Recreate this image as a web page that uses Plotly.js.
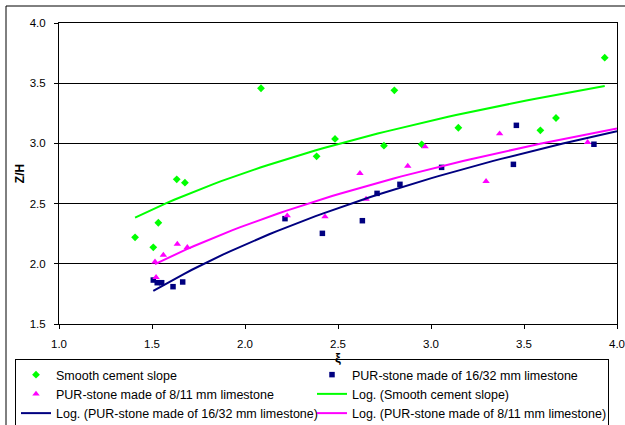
<!DOCTYPE html>
<html>
<head>
<meta charset="utf-8">
<script src="https://cdn.plot.ly/plotly-3.0.1.min.js"></script>
<style>
html,body{margin:0;padding:0;background:#fff;}
#chart{width:625px;height:425px;}
</style>
</head>
<body>
<div id="chart"></div>
<script>
// Smooth cement slope
const smoothX = [1.409, 1.507, 1.534, 1.633, 1.677, 2.086, 2.385, 2.484, 2.747, 2.803, 2.950, 3.147, 3.588, 3.672, 3.934];
const smoothY = [2.220, 2.137, 2.341, 2.702, 2.674, 3.458, 2.893, 3.037, 2.981, 3.441, 2.992, 3.130, 3.109, 3.211, 3.712];
// PUR-stone made of 16/32 mm limestone
const coarseX = [1.507, 1.528, 1.552, 1.613, 1.665, 2.215, 2.416, 2.631, 2.710, 2.833, 3.057, 3.443, 3.459, 3.876];
const coarseY = [1.865, 1.843, 1.843, 1.810, 1.849, 2.375, 2.253, 2.358, 2.585, 2.660, 2.801, 2.826, 3.150, 2.993];
// PUR-stone made of 8/11 mm limestone
const fineX = [1.516, 1.522, 1.561, 1.636, 1.690, 2.227, 2.430, 2.618, 2.651, 2.875, 2.968, 3.296, 3.369, 3.842];
const fineY = [2.017, 1.888, 2.073, 2.164, 2.137, 2.400, 2.391, 2.752, 2.538, 2.812, 2.973, 2.685, 3.081, 3.009];

const names = [
  'Smooth cement slope',
  'PUR-stone made of 16/32 mm limestone',
  'PUR-stone made of 8/11 mm limestone',
  'Log. (Smooth cement slope)',
  'Log. (PUR-stone made of 16/32 mm limestone)',
  'Log. (PUR-stone made of 8/11 mm limestone)'
];
const yTicks = [1.5, 2.0, 2.5, 3.0, 3.5, 4.0];
const xTicks = [1.0, 1.5, 2.0, 2.5, 3.0, 3.5, 4.0];

const GREEN = '#00FF00', NAVY = '#000080', MAGENTA = '#FF00FF';

// Logarithmic least-squares trend line (as a spreadsheet trendline): y = a*ln(x) + b
function logFit(xs, ys, xEnd) {
  const n = xs.length;
  let sl = 0, sy = 0, sll = 0, sly = 0;
  for (let i = 0; i < n; i++) {
    const l = Math.log(xs[i]);
    sl += l; sy += ys[i]; sll += l * l; sly += l * ys[i];
  }
  const a = (n * sly - sl * sy) / (n * sll - sl * sl);
  const b = (sy - a * sl) / n;
  const x0 = Math.min(...xs);
  const x1 = xEnd !== undefined ? xEnd : Math.max(...xs);
  const lx = [], ly = [];
  const steps = 60;
  for (let k = 0; k <= steps; k++) {
    const x = x0 + (x1 - x0) * k / steps;
    lx.push(x); ly.push(a * Math.log(x) + b);
  }
  return {x: lx, y: ly};
}

const fSmooth = logFit(smoothX, smoothY);
const fCoarse = logFit(coarseX, coarseY, 4.0);
const fFine = logFit(fineX, fineY, 4.0);

const traces = [
  {x: smoothX, y: smoothY, mode: 'markers', type: 'scatter', name: names[0],
   marker: {symbol: 'diamond', size: 6, color: GREEN}},
  {x: coarseX, y: coarseY, mode: 'markers', type: 'scatter', name: names[1],
   marker: {symbol: 'square', size: 5.5, color: NAVY}},
  {x: fineX, y: fineY, mode: 'markers', type: 'scatter', name: names[2],
   marker: {symbol: 'triangle-up', size: 6.5, color: MAGENTA}},
  {x: fSmooth.x, y: fSmooth.y, mode: 'lines', type: 'scatter', name: names[3],
   line: {color: GREEN, width: 2}},
  {x: fCoarse.x, y: fCoarse.y, mode: 'lines', type: 'scatter', name: names[4],
   line: {color: NAVY, width: 2}},
  {x: fFine.x, y: fFine.y, mode: 'lines', type: 'scatter', name: names[5],
   line: {color: MAGENTA, width: 2}}
];

const L = 59, R = 8, T = 23, B = 101, W = 625, H = 425;
const pw = W - L - R, ph = H - T - B;
const px = v => (v - L) / pw;
const py = v => (H - B - v) / ph;

const font = {family: 'Liberation Sans, Arial, sans-serif', size: 11.5, color: '#000'};

const layout = {
  width: W, height: H,
  margin: {l: L, r: R, t: T, b: B, pad: 0, autoexpand: false},
  paper_bgcolor: '#fff', plot_bgcolor: '#fff',
  font: font,
  showlegend: true,
  xaxis: {
    range: [1, 4], tickvals: xTicks, ticktext: xTicks.map(v => v.toFixed(1)),
    showgrid: false, zeroline: false,
    showline: true, linecolor: '#000', linewidth: 1, mirror: true,
    ticks: 'outside', ticklen: 4, tickcolor: '#000', ticklabelstandoff: 5,
    tickfont: font, automargin: false,
    title: {text: '<b>ξ</b>', font: {family: font.family, size: 13, color: '#000'}, standoff: 4}
  },
  yaxis: {
    range: [1.5, 4], tickvals: yTicks, ticktext: yTicks.map(v => v.toFixed(1)),
    showgrid: true, gridcolor: '#000', gridwidth: 1, zeroline: false,
    showline: true, linecolor: '#000', linewidth: 1, mirror: true,
    ticks: 'outside', ticklen: 4, tickcolor: '#000', ticklabelstandoff: 6,
    tickfont: font, automargin: false,
    title: {text: '<b>Z/H</b>', font: {family: font.family, size: 12, color: '#000'}, standoff: 2}
  },
  legend: {
    orientation: 'h',
    x: px(15), xanchor: 'left',
    y: py(359), yanchor: 'top',
    bordercolor: '#000', borderwidth: 1, bgcolor: '#fff',
    font: {family: font.family, size: 12.5, color: '#000'},
    entrywidth: 251, entrywidthmode: 'pixels',
    traceorder: 'normal', itemwidth: 30
  },
  shapes: [
    {type: 'rect', xref: 'paper', yref: 'paper',
     x0: px(6), x1: px(640), y0: py(440), y1: py(6),
     line: {color: '#000', width: 1}, fillcolor: 'rgba(0,0,0,0)', layer: 'below'}
  ]
};

Plotly.newPlot('chart', traces, layout, {displayModeBar: false, staticPlot: true});
</script>
</body>
</html>
